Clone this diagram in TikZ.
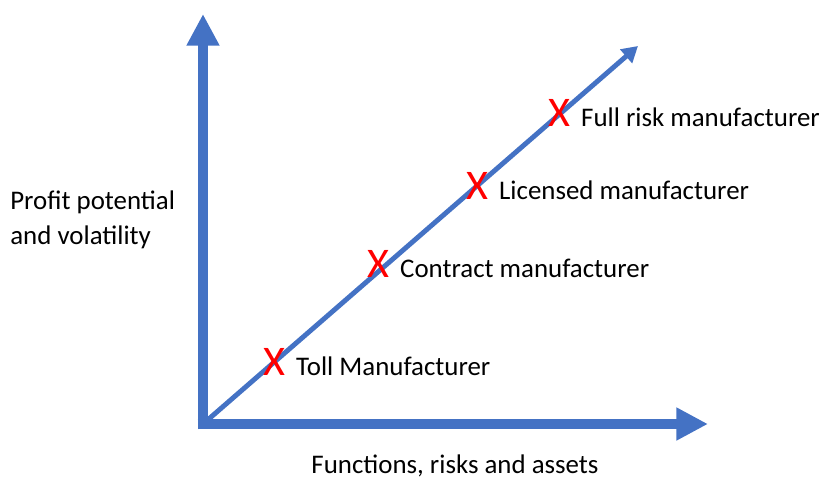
\documentclass[tikz,border=0pt]{standalone}
\usepackage{fontspec}
\setmainfont{Carlito}
\usetikzlibrary{arrows.meta}
\usetikzlibrary{positioning}
\definecolor{axisblue}{HTML}{4472C4}

\begin{document}
\begin{tikzpicture}[x=0.02cm, y=-0.02cm]
      \def\axiswidth{6.2pt}
      \tikzset{
        axis/.style={axisblue, line width=\axiswidth, -{Triangle[width=17.6pt, length=18pt]}},
        mark x/.style={red, font=\fontsize{24}{24}\selectfont, inner sep=0pt},
        label/.style={font=\fontsize{15.3}{19.8}\selectfont, inner sep=0pt, anchor=west}
      }
      \useasboundingbox (0,0) rectangle (823,478);

      \coordinate (origin) at (203,424);
      \coordinate (ytip) at (203,14);
      \coordinate (xtip) at (708,424);
      \coordinate (dtip) at (638,46);

      \draw[axis] ([yshift=-3pt]origin) -- (ytip);
      \draw[axis] ([xshift=-3pt]origin) -- (xtip);
      \draw[axisblue, line width=2.8pt, -{Triangle[width=10pt, length=9pt]}] (origin) -- (dtip);

      \node[mark x] (toll) at (274,362) {X};
      \node[mark x] (contract) at (378,264) {X};
      \node[mark x] (licensed) at (477,186) {X};
      \node[mark x] (fullrisk) at (559,113) {X};

      \node[label, right=6pt of toll.base east, anchor=base west] (tolltext) {Toll Manufacturer};
      \node[label, right=6pt of contract.base east, anchor=base west] (contracttext) {Contract manufacturer};
      \node[label, right=6pt of licensed.base east, anchor=base west] (licensedtext) {Licensed manufacturer};
      \node[label, right=6pt of fullrisk.base east, anchor=base west] (fullrisktext) {Full risk manufacturer};

      \node[label, align=left] (yname) at (10,220) {Profit potential\\and volatility};
      \node[label, anchor=center] (xname) at (455,466) {Functions, risks and assets};
\end{tikzpicture}
\end{document}
